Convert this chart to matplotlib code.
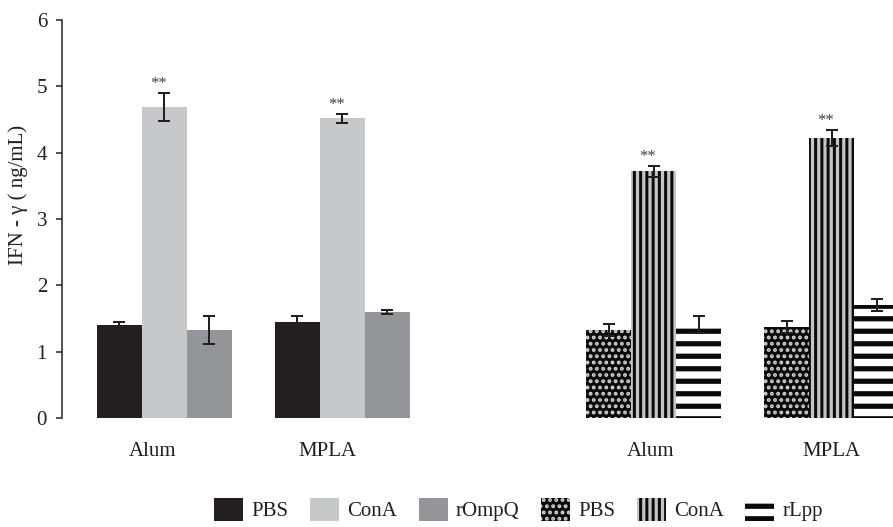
import matplotlib
matplotlib.use('Agg')
import matplotlib.pyplot as plt
import numpy as np

plt.rcParams['font.family'] = ['Liberation Serif', 'DejaVu Serif']

# ---- data ----
categories = ['Alum', 'MPLA']
pbs_a = [1.40, 1.45]
pbs_a_err = [0.05, 0.09]
cona_a = [4.69, 4.52]
cona_a_err = [0.21, 0.07]
rompq = [1.33, 1.60]
rompq_err = [0.21, 0.03]
pbs_b = [1.33, 1.37]
pbs_b_err = [0.09, 0.09]
cona_b = [3.72, 4.22]
cona_b_err = [0.08, 0.12]
rlpp = [1.41, 1.70]
rlpp_err = [0.13, 0.09]
sig_marks = ['**', '**']
legend_labels = ['PBS', 'ConA', 'rOmpQ', 'PBS', 'ConA', 'rLpp']
yticks = [0, 1, 2, 3, 4, 5, 6]
ylabel = 'IFN - γ ( ng/mL)'

# ---- layout / style ----
DPI = 75
W, H = 893, 527
def px(p):
    return p * 72.0 / DPI

TXT = '#231f20'
fig = plt.figure(figsize=(W / DPI, H / DPI), dpi=DPI)
ax = fig.add_axes([62 / W, 1 - 418 / H, 1 - 62 / W, (418 - 20) / H])

w = 45 / 178
xl = np.arange(len(categories), dtype=float)
xr = xl + 2.75

err_kw = dict(ecolor=TXT, elinewidth=px(2), capsize=px(6), capthick=px(2))

b1 = ax.bar(xl - w, pbs_a, w, yerr=pbs_a_err, color='#231f20', lw=0, error_kw=err_kw)
b2 = ax.bar(xl, cona_a, w, yerr=cona_a_err, color='#c7c8ca', lw=0, error_kw=err_kw)
b3 = ax.bar(xl + w, rompq, w, yerr=rompq_err, color='#939598', lw=0, error_kw=err_kw)

b4 = ax.bar(xr - w, pbs_b, w, yerr=pbs_b_err, facecolor='#0a0a0a', edgecolor='#d4d4d4',
            hatch='..', lw=0, error_kw=err_kw)
b5 = ax.bar(xr, cona_b, w, yerr=cona_b_err, facecolor='#c4c4c4', edgecolor='#0a0a0a',
            hatch='||', lw=0, error_kw=err_kw)
b6 = ax.bar(xr + w, rlpp, w, yerr=rlpp_err, facecolor='white', edgecolor='#0a0a0a',
            hatch='-', lw=0, error_kw=err_kw)

hatch_lws = [px(2.6), px(3.0), px(5.2)]
for cont, hl in zip((b4, b5, b6), hatch_lws):
    for p in cont:
        if hasattr(p, 'set_hatch_linewidth'):
            p.set_hatch_linewidth(hl)

# significance marks
for xs, vals, errs in ((xl, cona_a, cona_a_err), (xr, cona_b, cona_b_err)):
    for x, v, e, m in zip(xs, vals, errs, sig_marks):
        ax.annotate(m, xy=(x, v + e), xytext=(-6, 1), textcoords='offset pixels',
                    ha='center', va='bottom', fontsize=16, color='#414042')

# axes styling
for s in ('top', 'right', 'bottom'):
    ax.spines[s].set_visible(False)
ax.spines['left'].set_linewidth(px(1.5))
ax.spines['left'].set_color(TXT)
ax.set_ylim(0, 6)
ax.set_yticks(yticks)
ax.tick_params(axis='y', length=px(6), width=px(1.5), color=TXT, pad=px(9),
               labelsize=20, labelcolor=TXT, direction='out')
ax.set_xlim(-0.5758, 4.0927)
label_shift = [-0.065, -0.085, -0.02, -0.005]
ax.set_xticks(np.concatenate([xl, xr]) + np.array(label_shift))
ax.set_xticklabels(categories + categories)
ax.tick_params(axis='x', length=0, pad=px(24), labelsize=20, labelcolor=TXT)

fig.text(18 / W, 1 - 195 / H, ylabel, rotation=90, ha='center', va='center',
         fontsize=20, color=TXT)

leg = fig.legend([b1, b2, b3, b4, b5, b6], legend_labels, ncol=6, loc='center',
                 bbox_to_anchor=(518.5 / W, 1 - 509.5 / H), frameon=False,
                 handlelength=1.39, handleheight=1.39, handletextpad=0.38,
                 columnspacing=1.05, fontsize=20, borderpad=0, labelcolor=TXT)
for h, hl in zip(leg.legend_handles[3:], hatch_lws):
    if hasattr(h, 'set_hatch_linewidth'):
        h.set_hatch_linewidth(hl)

fig.savefig('out.png', dpi=DPI)
